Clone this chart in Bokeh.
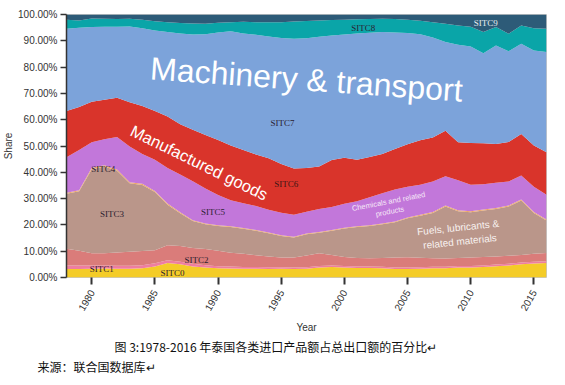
import math
from bokeh.plotting import figure
from bokeh.models import ColumnDataSource, Label, PrintfTickFormatter, FixedTicker, Range1d, Title
from bokeh.embed import file_html
from bokeh.resources import INLINE

years = list(range(1978, 2017))
sitc0 = [3.2, 3.2, 3.3, 3.4, 3.3, 3.3, 3.5, 4.2, 5.5, 5.0, 4.2, 3.8, 3.5, 3.4, 3.3, 3.3, 3.2, 3.3, 3.2, 3.3,
         3.8, 4.0, 3.8, 3.6, 3.6, 3.5, 3.2, 3.2, 3.3, 3.5, 3.5, 3.8, 3.8, 4.0, 4.3, 4.6, 5.0, 5.3, 5.5]
sitc1 = [1.4, 1.4, 1.3, 1.2, 1.2, 1.2, 1.2, 1.2, 1.1, 1.0, 1.0, 0.9, 0.8, 0.8, 0.7, 0.7, 0.7, 0.6, 0.6, 0.6,
         0.6, 0.6, 0.6, 0.6, 0.6, 0.6, 0.6, 0.6, 0.6, 0.6, 0.6, 0.6, 0.6, 0.6, 0.6, 0.6, 0.7, 0.7, 0.7]
sitc2 = [6.3, 5.6, 4.6, 4.6, 5.0, 5.3, 5.4, 5.0, 5.7, 6.0, 6.0, 6.1, 5.9, 5.2, 5.0, 4.5, 4.1, 3.7, 3.8, 4.5,
         4.8, 4.0, 3.4, 3.2, 3.1, 3.3, 3.8, 3.9, 3.6, 3.2, 3.1, 3.0, 3.2, 3.2, 3.1, 3.1, 2.9, 3.0, 3.1]
sitc3 = [20.9, 22.6, 32.0, 33.0, 31.1, 26.0, 25.1, 22.1, 15.4, 12.4, 10.3, 9.4, 9.4, 9.8, 9.5, 9.3, 8.8, 8.2, 7.6, 8.0,
         7.8, 9.2, 10.8, 11.8, 12.3, 12.8, 13.4, 14.8, 16.0, 17.2, 19.8, 17.8, 17.2, 17.7, 18.0, 18.7, 20.7, 15.5, 12.4]
sitc4 = [0.4, 0.4, 0.5, 0.5, 0.5, 0.4, 0.4, 0.4, 0.4, 0.4, 0.3, 0.3, 0.3, 0.3, 0.3, 0.3, 0.3, 0.3, 0.3, 0.3,
         0.3, 0.3, 0.3, 0.3, 0.3, 0.3, 0.3, 0.3, 0.4, 0.4, 0.4, 0.4, 0.4, 0.4, 0.4, 0.4, 0.4, 0.4, 0.4]
sitc5 = [13.5, 15.3, 9.7, 9.9, 12.3, 13.6, 11.4, 11.9, 13.5, 14.4, 14.8, 13.3, 11.5, 9.9, 9.4, 9.1, 8.7, 8.5, 8.4, 8.3,
         8.7, 8.7, 9.1, 9.5, 10.6, 11.5, 12.2, 11.7, 11.4, 11.6, 11.1, 11.4, 10.1, 9.6, 9.6, 9.1, 9.1, 9.6, 9.4]
sitc6 = [17.6, 16.3, 15.4, 15.0, 14.9, 16.8, 18.2, 18.5, 19.6, 19.1, 19.6, 20.4, 20.9, 20.8, 20.3, 19.6, 19.5, 18.6, 17.5, 16.6,
         16.2, 17.9, 17.5, 15.8, 15.3, 15.0, 15.4, 16.2, 16.9, 16.7, 17.3, 14.4, 15.8, 15.5, 14.8, 15.0, 15.8, 15.7, 16.1]
sitc7 = [31.3, 30.2, 28.4, 27.7, 27.0, 28.8, 29.6, 30.6, 32.1, 34.5, 36.2, 38.3, 40.9, 43.4, 44.3, 45.5, 46.3, 47.9, 49.4, 49.4,
         49.3, 47.3, 46.9, 48.0, 47.3, 46.3, 44.3, 42.3, 40.3, 38.1, 33.7, 37.1, 36.7, 34.3, 37.4, 34.5, 34.3, 36.1, 38.1]
sitc8 = [3.4, 2.7, 3.3, 3.1, 3.0, 3.0, 3.2, 3.5, 3.8, 4.0, 4.2, 4.0, 3.7, 3.5, 4.4, 4.8, 5.5, 6.0, 6.5, 6.5,
         6.2, 5.9, 5.6, 5.4, 5.2, 5.1, 5.1, 5.0, 5.1, 5.8, 7.0, 7.3, 7.5, 8.0, 7.0, 6.7, 6.9, 8.5, 8.9]
sitc9 = [2.0, 2.3, 1.5, 1.6, 1.7, 1.6, 2.0, 2.6, 2.9, 3.2, 3.4, 3.5, 3.1, 2.9, 2.8, 2.9, 2.9, 2.9, 2.7, 2.5,
         2.3, 2.1, 2.0, 1.8, 1.7, 1.6, 1.7, 2.0, 2.4, 2.9, 3.5, 4.2, 4.7, 6.7, 4.8, 7.3, 4.2, 5.2, 5.4]

series_names = ["SITC0", "SITC1", "SITC2", "SITC3", "SITC4", "SITC5", "SITC6", "SITC7", "SITC8", "SITC9"]
series_values = [sitc0, sitc1, sitc2, sitc3, sitc4, sitc5, sitc6, sitc7, sitc8, sitc9]
colors = ["#F4CC27", "#EE7EA0", "#DA7C7A", "#BA968A", "#EDA868",
          "#C277DA", "#D9342B", "#7CA3DA", "#0AA5A8", "#2D5B78"]
y_ticks = [0, 10, 20, 30, 40, 50, 60, 70, 80, 90, 100]
x_ticks = [1980, 1985, 1990, 1995, 2000, 2005, 2010, 2015]
caption = "图 3:1978-2016 年泰国各类进口产品额占总出口额的百分比↵"
source_note = "来源：联合国数据库↵"

data = {"year": years}
for n, v in zip(series_names, series_values):
    data[n] = v
source = ColumnDataSource(data)

p = figure(width=565, height=385, output_backend="svg", toolbar_location=None,
           x_range=Range1d(1978, 2016), y_range=Range1d(0, 100))
p.min_border_left = 64
p.min_border_right = 19
p.min_border_top = 14
p.min_border_bottom = 108
p.background_fill_color = "white"
p.border_fill_color = "white"
p.outline_line_color = "#c8c8c8"
p.xgrid.visible = False
p.ygrid.visible = False

p.varea_stack(stackers=series_names, x="year", color=colors, source=source)

# axes
ax = p.yaxis[0]
ax.ticker = FixedTicker(ticks=y_ticks)
ax.formatter = PrintfTickFormatter(format="%.2f%%")
ax.major_label_text_font = "Liberation Sans"
ax.major_label_text_font_size = "10px"
ax.major_label_text_color = "#333333"
ax.axis_line_color = "#333333"
ax.axis_line_width = 1.5
ax.major_tick_line_color = "#333333"
ax.major_tick_line_width = 1.5
ax.major_tick_out = 6
ax.major_tick_in = 0
ax.minor_tick_line_color = None
ax.major_label_standoff = 3
ax.axis_label = "Share"
ax.axis_label_text_font = "Liberation Sans"
ax.axis_label_text_font_size = "10px"
ax.axis_label_text_font_style = "normal"
ax.axis_label_text_color = "#333333"
ax.axis_label_standoff = 1

bx = p.xaxis[0]
bx.ticker = FixedTicker(ticks=x_ticks)
bx.major_label_orientation = math.radians(60)
bx.major_label_text_font = "Liberation Sans"
bx.major_label_text_font_size = "10px"
bx.major_label_text_color = "#333333"
bx.axis_line_color = None
bx.major_tick_line_color = "#333333"
bx.major_tick_line_width = 2
bx.major_tick_out = 7
bx.major_tick_in = 0
bx.minor_tick_line_color = None
bx.major_label_standoff = 6
bx.axis_label = "Year"
bx.axis_label_text_font = "Liberation Sans"
bx.axis_label_text_font_size = "10px"
bx.axis_label_text_font_style = "normal"
bx.axis_label_text_color = "#333333"
bx.axis_label_standoff = 5

# caption lines below the chart
p.add_layout(Title(text=caption, align="left", offset=48, standoff=1,
                   text_font="Noto Sans CJK SC", text_font_size="12px", text_line_height=1.0,
                   text_font_style="normal", text_color="#111111"), "below")
p.add_layout(Title(text=source_note, align="left", offset=-29, standoff=0,
                   text_font="Noto Sans CJK SC", text_font_size="12px", text_line_height=0.9,
                   text_font_style="normal", text_color="#111111"), "below")

def lab(x, y, text, size, color, font="Liberation Sans", angle=0.0, align="center",
        baseline="middle", style="normal", alpha=1.0):
    p.add_layout(Label(x=x, y=y, text=text, text_font=font, text_font_size=size,
                       text_color=color, angle=math.radians(angle), text_align=align,
                       text_baseline=baseline, text_font_style=style, text_alpha=alpha))

# big category captions
lab(1997.0, 75.3, "Machinery & transport", "32px", "#ffffff", angle=-4.1, baseline="alphabetic")
lab(1988.5, 43.7, "Manufactured goods", "16.5px", "#ffffff", angle=-26)
lab(2003.5, 28.9, "Chemicals and related", "7.5px", "#f6e8f8", angle=11)
lab(2003.6, 25.1, "products", "7.5px", "#f6e8f8", angle=11)
lab(2009.0, 19.0, "Fuels, lubricants &", "10px", "#f8f2f0", angle=6)
lab(2009.15, 13.7, "related materials", "10px", "#f8f2f0", angle=6)

# SITC labels
sitc_font = "Liberation Serif"
dark = "#2a2030"
lab(2001.5, 94.7, "SITC8", "9px", dark, font=sitc_font)
lab(2011.2, 96.8, "SITC9", "9px", "#e8eef2", font=sitc_font)
lab(1995.1, 58.6, "SITC7", "9px", dark, font=sitc_font)
lab(1995.4, 35.4, "SITC6", "9px", "#3a1414", font=sitc_font)
lab(1989.6, 24.9, "SITC5", "9px", dark, font=sitc_font)
lab(1980.9, 41.1, "SITC4", "9px", dark, font=sitc_font)
lab(1981.6, 24.0, "SITC3", "9px", dark, font=sitc_font)
lab(1988.3, 6.8, "SITC2", "9px", dark, font=sitc_font)
lab(1980.8, 3.4, "SITC1", "9px", dark, font=sitc_font)
lab(1986.4, 1.7, "SITC0", "9px", dark, font=sitc_font)

open("out.html", "w").write(file_html(p, INLINE))
